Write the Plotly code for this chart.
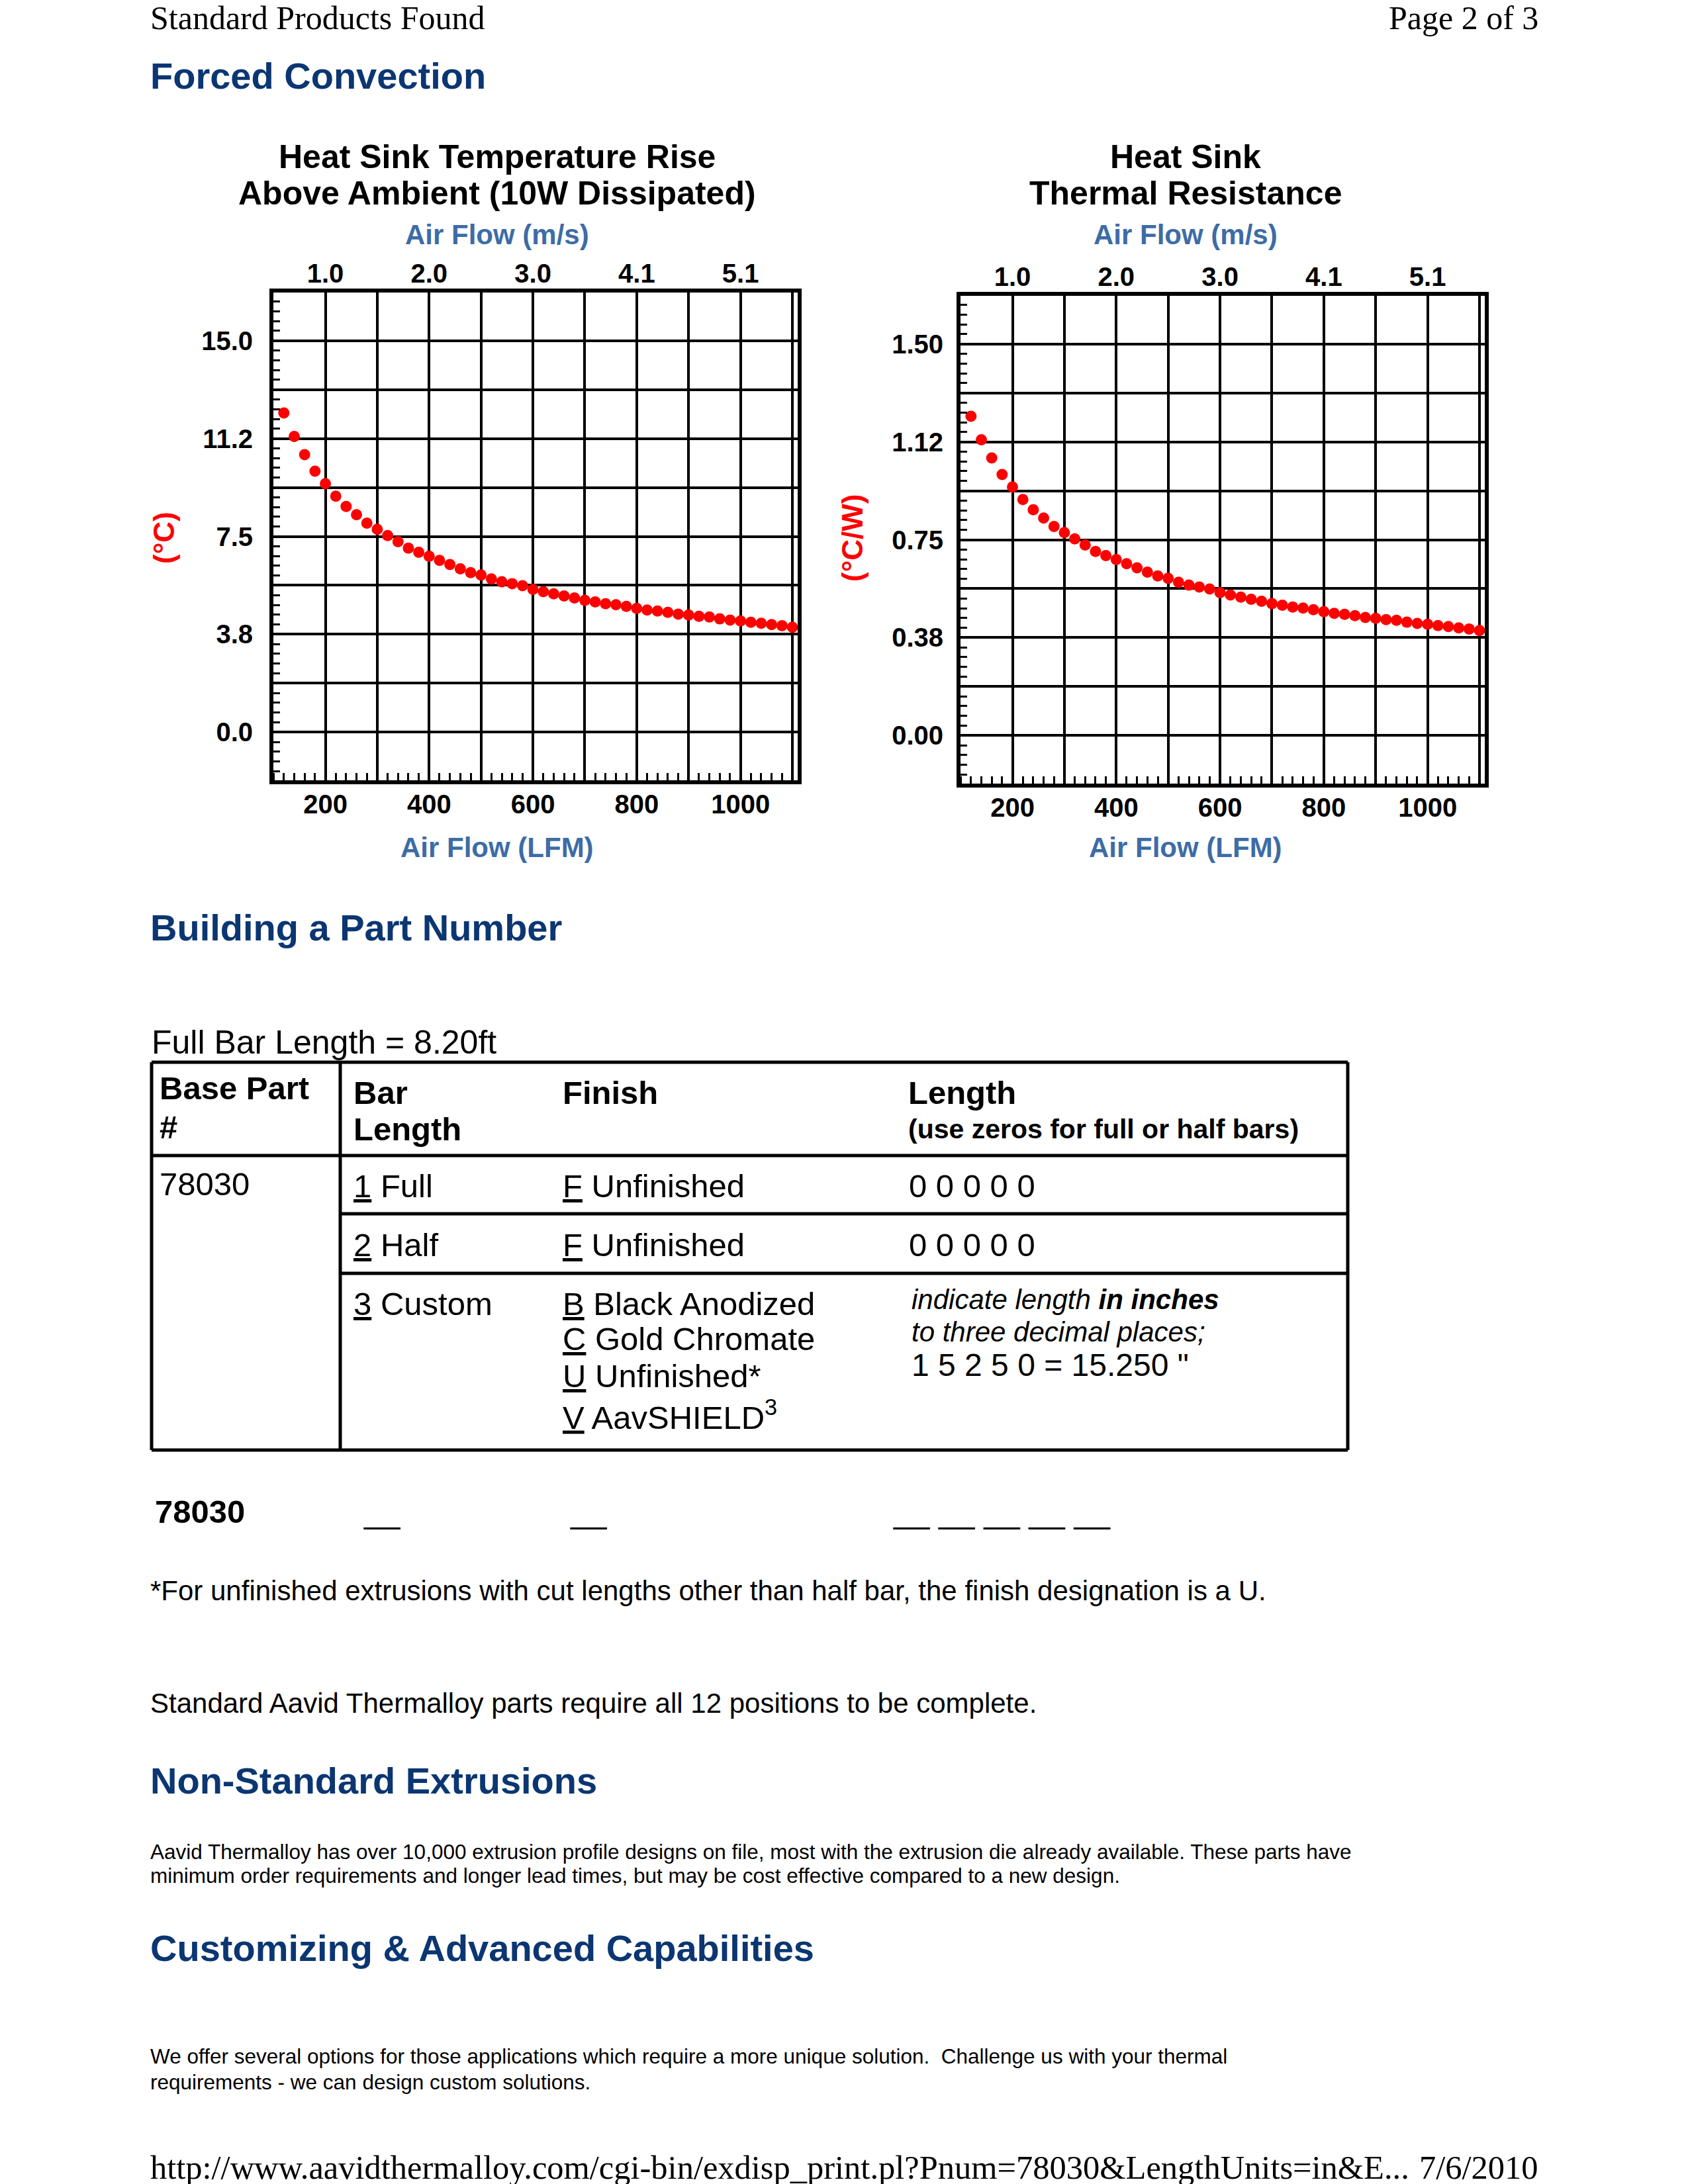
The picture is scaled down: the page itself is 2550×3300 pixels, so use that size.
import plotly.graph_objects as go

W, H = 2550, 3300
SANS = "Liberation Sans"
SERIF = "Liberation Serif"
NAVY = "#0b3672"
BLUE = "#3d6ca6"
RED = "#ff0000"

# ---------------- data ----------------
airflow_lfm = [120, 140, 160, 180, 200, 220, 240, 260, 280, 300,
               320, 340, 360, 380, 400, 420, 440, 460, 480, 500,
               520, 540, 560, 580, 600, 620, 640, 660, 680, 700,
               720, 740, 760, 780, 800, 820, 840, 860, 880, 900,
               920, 940, 960, 980, 1000, 1020, 1040, 1060, 1080, 1100]
temp_rise_c = [12.23, 11.33, 10.63, 10.00, 9.52, 9.04, 8.65, 8.33, 8.01, 7.77,
               7.53, 7.30, 7.05, 6.89, 6.74, 6.58, 6.42, 6.26, 6.11, 6.02,
               5.87, 5.76, 5.69, 5.61, 5.47, 5.38, 5.30, 5.22, 5.14, 5.05,
               4.99, 4.92, 4.88, 4.82, 4.74, 4.68, 4.64, 4.59, 4.52, 4.49,
               4.44, 4.41, 4.34, 4.29, 4.26, 4.21, 4.17, 4.12, 4.08, 4.02]
thermal_res_cw = [1.223, 1.133, 1.063, 1.000, 0.952, 0.904, 0.865, 0.833, 0.801, 0.777,
                  0.753, 0.730, 0.705, 0.689, 0.674, 0.658, 0.642, 0.626, 0.611, 0.602,
                  0.587, 0.576, 0.569, 0.561, 0.547, 0.538, 0.530, 0.522, 0.514, 0.505,
                  0.499, 0.492, 0.488, 0.482, 0.474, 0.468, 0.464, 0.459, 0.452, 0.449,
                  0.444, 0.441, 0.434, 0.429, 0.426, 0.421, 0.417, 0.412, 0.408, 0.402]

lfm_ticks = [200, 300, 400, 500, 600, 700, 800, 900, 1000, 1100]
lfm_ticktext = ["200", "", "400", "", "600", "", "800", "", "1000", ""]
ms_ticks = [200, 400, 600, 800, 1000]
ms_ticktext = ["1.0", "2.0", "3.0", "4.1", "5.1"]
temp_ticks = [0, 1.875, 3.75, 5.625, 7.5, 9.375, 11.25, 13.125, 15.0]
temp_ticktext = ["0.0", "", "3.8", "", "7.5", "", "11.2", "", "15.0"]
res_ticks = [0, 0.1875, 0.375, 0.5625, 0.75, 0.9375, 1.125, 1.3125, 1.5]
res_ticktext = ["0.00", "", "0.38", "", "0.75", "", "1.12", "", "1.50"]

x_range = [96, 1114]
temp_range = [-1.92, 16.92]
res_range = [-0.192, 1.692]


def px(x):
    return x / W


def py(y):
    return 1 - y / H


fig = go.Figure()
marker = dict(color=RED, size=17, line=dict(width=0))
fig.add_trace(go.Scatter(x=airflow_lfm, y=temp_rise_c, mode="markers",
                         marker=marker, xaxis="x", yaxis="y", hoverinfo="skip"))
fig.add_trace(go.Scatter(x=airflow_lfm, y=thermal_res_cw, mode="markers",
                         marker=marker, xaxis="x3", yaxis="y3", hoverinfo="skip"))
# the same series bound to the top (m/s) axes so that those axes get drawn
fig.add_trace(go.Scatter(x=airflow_lfm, y=temp_rise_c, mode="markers",
                         marker=dict(size=1, opacity=0), xaxis="x2", yaxis="y",
                         hoverinfo="skip"))
fig.add_trace(go.Scatter(x=airflow_lfm, y=thermal_res_cw, mode="markers",
                         marker=dict(size=1, opacity=0), xaxis="x4", yaxis="y3",
                         hoverinfo="skip"))

tickfont = dict(family=SANS, size=40, color="black", weight="bold")


def bottom_x(x0, x1, anchor):
    return dict(domain=[px(x0), px(x1)], range=x_range, anchor=anchor,
                tickmode="array", tickvals=lfm_ticks, ticktext=lfm_ticktext,
                showgrid=True, gridcolor="black", gridwidth=3.5,
                showline=False, ticks="", zeroline=False, tickfont=tickfont,
                ticklabelstandoff=6,
                minor=dict(dtick=20, tick0=0, ticks="inside", ticklen=14,
                           tickwidth=3, tickcolor="black", showgrid=False),
                fixedrange=True)


def top_x(x0, x1, over, anchor):
    return dict(domain=[px(x0), px(x1)], range=x_range, anchor=anchor,
                overlaying=over, side="top",
                tickmode="array", tickvals=ms_ticks, ticktext=ms_ticktext,
                showgrid=False, showline=False, ticks="", zeroline=False,
                tickfont=tickfont, ticklabelstandoff=3, fixedrange=True)


def left_y(y_top, y_bot, anchor, rng, tv, tt, mdt, standoff):
    return dict(domain=[py(y_bot), py(y_top)], range=rng, anchor=anchor,
                tickmode="array", tickvals=tv, ticktext=tt,
                showgrid=True, gridcolor="black", gridwidth=3.5,
                showline=False, ticks="", zeroline=False, tickfont=tickfont,
                ticklabelstandoff=standoff,
                minor=dict(dtick=mdt, tick0=0, ticks="inside", ticklen=13,
                           tickwidth=3, tickcolor="black", showgrid=False),
                fixedrange=True)


annotations = []


def ann(text, x, y, size, color="black", bold=False, xanchor="left",
        family=SANS, angle=0, italic=False):
    annotations.append(dict(
        text=text, x=px(x), y=py(y), xref="paper", yref="paper",
        xanchor=xanchor, yanchor="middle", showarrow=False, textangle=angle,
        font=dict(family=family, size=size, color=color,
                  weight="bold" if bold else "normal",
                  style="italic" if italic else "normal")))


# page header/footer
ann("Standard Products Found", 225, 27, 50, family=SERIF)
ann("Page 2 of 3", 2326, 27, 50, family=SERIF, xanchor="right")
ann("http://www.aavidthermalloy.com/cgi-bin/exdisp_print.pl?Pnum=78030&amp;LengthUnits=in&amp;E...",
    225, 3275, 50.5, family=SERIF)
ann("7/6/2010", 2326, 3275, 50.5, family=SERIF, xanchor="right")

# section headings
ann("Forced Convection", 225, 114, 56, NAVY, bold=True)
ann("Building a Part Number", 225, 1402, 56, NAVY, bold=True)
ann("Non-Standard Extrusions", 225, 2690, 56, NAVY, bold=True)
ann("Customizing &amp; Advanced Capabilities", 225, 2943, 56, NAVY, bold=True)

# chart texts
for cx, l1, l2, ylab, ylx in [(751, "Heat Sink Temperature Rise", "Above Ambient (10W Dissipated)", "(°C)", 248),
                              (1791, "Heat Sink", "Thermal Resistance", "(°C/W)", 1288)]:
    ann(l1, cx, 237, 50, bold=True, xanchor="center")
    ann(l2, cx, 292, 50, bold=True, xanchor="center")
    ann("Air Flow (m/s)", cx, 355, 42, BLUE, bold=True, xanchor="center")
    ann("Air Flow (LFM)", cx, 1280, 42, BLUE, bold=True, xanchor="center")
    ann(ylab, ylx, 813, 44, RED, bold=True, xanchor="center", angle=-90)

# part number table
ann("Full Bar Length = 8.20ft", 227, 1575, 50)
ann("Base Part", 239, 1644, 49, bold=True)
ann("#", 239, 1703, 49, bold=True)
ann("Bar", 532, 1651, 49, bold=True)
ann("Length", 532, 1706, 49, bold=True)
ann("Finish", 848, 1651, 49, bold=True)
ann("Length", 1370, 1651, 49, bold=True)
ann("(use zeros for full or half bars)", 1370, 1706, 41, bold=True)
ann("78030", 239, 1789, 49)
ann("<u>1</u> Full", 532, 1792, 49)
ann("<u>F</u> Unfinished", 848, 1792, 49)
ann("0 0 0 0 0", 1371, 1792, 49)
ann("<u>2</u> Half", 532, 1881, 49)
ann("<u>F</u> Unfinished", 848, 1881, 49)
ann("0 0 0 0 0", 1371, 1881, 49)
ann("<u>3</u> Custom", 532, 1970, 49)
ann("<u>B</u> Black Anodized", 848, 1970, 49)
ann("<u>C</u> Gold Chromate", 848, 2023, 49)
ann("<u>U</u> Unfinished*", 848, 2079, 49)
ann("<u>V</u> AavSHIELD<sup>3</sup>", 848, 2138, 49)
ann("indicate length <b>in inches</b>", 1375, 1964, 42, italic=True)
ann("to three decimal places;", 1375, 2012, 42, italic=True)
ann("1 5 2 5 0 = 15.250 \"", 1375, 2062, 48)

ann("78030", 232, 2284, 49, bold=True)
ann("__", 547, 2284, 49)
ann("__", 859, 2284, 49)
ann("__ __ __ __ __", 1347, 2284, 49)

ann("*For unfinished extrusions with cut lengths other than half bar, the finish designation is a U.",
    225, 2403, 42)
ann("Standard Aavid Thermalloy parts require all 12 positions to be complete.", 225, 2573, 42)
ann("Aavid Thermalloy has over 10,000 extrusion profile designs on file, most with the extrusion die already available. These parts have",
    225, 2798, 31.5)
ann("minimum order requirements and longer lead times, but may be cost effective compared to a new design.",
    225, 2834, 31.5)
ann("We offer several options for those applications which require a more unique solution.  Challenge us with your thermal",
    225, 3107, 31.5)
ann("requirements - we can design custom solutions.", 225, 3146, 31.5)

# chart frames and table rules
shapes = []
for xr, yr in [("x domain", "y domain"), ("x3 domain", "y3 domain")]:
    shapes.append(dict(type="rect", xref=xr, yref=yr, x0=0, x1=1, y0=0, y1=1,
                       line=dict(color="black", width=6), layer="above"))


def line(x0, y0, x1, y1, w=5):
    shapes.append(dict(type="line", xref="paper", yref="paper",
                       x0=px(x0), y0=py(y0), x1=px(x1), y1=py(y1),
                       line=dict(color="black", width=w)))


TL, TR, TT, TB, TV = 229, 2036, 1605, 2191, 514
line(TL, TT, TR, TT)
line(TL, TB, TR, TB)
line(TL, TT, TL, TB)
line(TR, TT, TR, TB)
line(TV, TT, TV, TB)
line(TL, 1746, TR, 1746)
line(TV, 1834, TR, 1834)
line(TV, 1924, TR, 1924)

fig.update_layout(
    width=W, height=H,
    margin=dict(l=0, r=0, t=0, b=0),
    paper_bgcolor="white", plot_bgcolor="white",
    showlegend=False,
    xaxis=bottom_x(410, 1208, "y"),
    xaxis2=top_x(410, 1208, "x", "y"),
    yaxis=left_y(439, 1182, "x", temp_range, temp_ticks, temp_ticktext, 0.375, 27),
    xaxis3=bottom_x(1448, 2246, "y3"),
    xaxis4=top_x(1448, 2246, "x3", "y3"),
    yaxis3=left_y(444, 1187, "x3", res_range, res_ticks, res_ticktext, 0.0375, 22),
    annotations=annotations,
    shapes=shapes,
)

fig.write_html("out.html", config={"displayModeBar": False},
               post_script="document.body.style.margin='0';")
